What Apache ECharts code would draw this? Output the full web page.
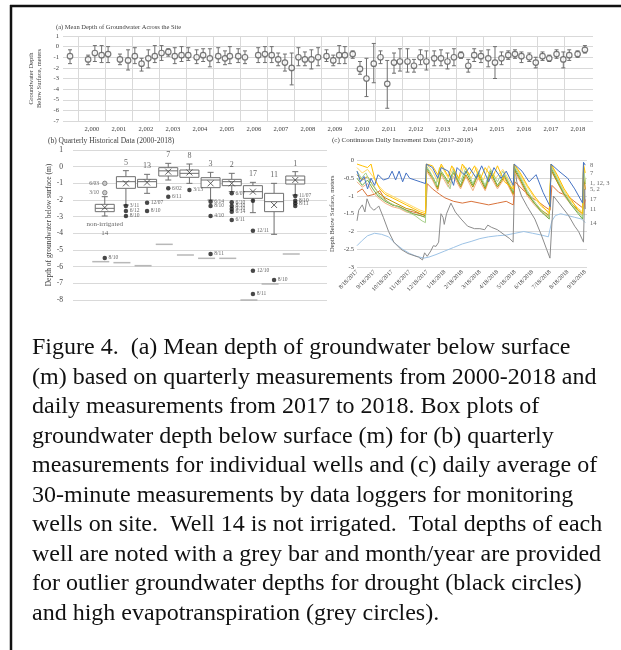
<!DOCTYPE html>
<html>
<head>
<meta charset="utf-8">
<script src="https://cdn.jsdelivr.net/npm/echarts@6/dist/echarts.min.js"></script>
<style>
html, body { margin: 0; padding: 0; background: #fff; }
#chart { width: 621px; height: 650px; }
</style>
</head>
<body>
<div id="chart"></div>
<script>
// ---- (a) mean depth across the site: [decimal year, mean, upper, lower]
var yearLabels = [2000, 2001, 2002, 2003, 2004, 2005, 2006, 2007, 2008, 2009, 2010, 2011, 2012, 2013, 2014, 2015, 2016, 2017, 2018];
var yearEdges = [1999.5, 2000.5, 2001.5, 2002.5, 2003.5, 2004.5, 2005.5, 2006.5, 2007.5, 2008.5, 2009.5, 2010.5, 2011.5, 2012.5, 2013.5, 2014.5, 2015.5, 2016.5, 2017.5];
var meanDepth = [
    [1999.19, -0.9, -0.3, -1.6], [1999.86, -1.2, -0.8, -1.7], [2000.11, -0.6, 0.1, -1.4], [2000.36, -0.8, 0.1, -1.5],
    [2000.60, -0.7, 0.0, -1.5], [2001.04, -1.2, -0.7, -1.7], [2001.34, -1.3, -0.3, -2.2], [2001.59, -0.9, -0.1, -1.6],
    [2001.84, -1.6, -1.1, -2.3], [2002.09, -1.1, -0.3, -2.0], [2002.33, -0.9, 0.1, -1.5], [2002.58, -0.6, 0.1, -1.3],
    [2002.83, -0.5, -0.2, -0.9], [2003.07, -0.9, -0.1, -1.6], [2003.32, -0.8, 0.0, -1.4], [2003.57, -0.8, -0.1, -1.3],
    [2003.88, -1.0, -0.3, -1.6], [2004.12, -0.8, -0.2, -1.4], [2004.37, -1.1, -0.2, -1.9], [2004.68, -0.9, -0.1, -1.5],
    [2004.93, -1.1, -0.4, -1.7], [2005.11, -0.9, 0.0, -1.6], [2005.42, -0.9, -0.2, -1.5], [2005.67, -1.0, -0.4, -1.6],
    [2006.16, -0.8, -0.1, -1.5], [2006.41, -0.7, 0.0, -1.5], [2006.66, -0.8, 0.0, -1.5], [2006.90, -1.2, -0.6, -1.8],
    [2007.15, -1.5, -0.7, -2.3], [2007.40, -2.0, -0.6, -3.6], [2007.65, -1.0, -0.1, -1.8], [2007.89, -1.2, -0.5, -1.8],
    [2008.13, -1.2, -0.3, -2.1], [2008.38, -1.0, -0.1, -1.8], [2008.69, -0.9, -0.3, -1.4], [2008.94, -1.3, -0.8, -1.8],
    [2009.16, -0.8, 0.1, -1.6], [2009.37, -0.8, 0.0, -1.6], [2009.66, -0.7, -0.4, -1.1], [2009.93, -2.1, -1.4, -2.6],
    [2010.17, -3.0, -1.1, -4.7], [2010.44, -1.6, 0.3, -3.4], [2010.69, -1.0, -0.4, -1.6], [2010.94, -3.5, -1.3, -5.8],
    [2011.19, -1.5, -0.6, -2.5], [2011.41, -1.4, -0.2, -2.3], [2011.69, -1.4, -0.2, -2.4], [2011.93, -1.8, -1.2, -2.4],
    [2012.17, -1.0, -0.3, -1.7], [2012.39, -1.4, -0.4, -2.2], [2012.68, -1.1, -0.4, -1.8], [2012.93, -1.1, -0.3, -1.8],
    [2013.17, -1.4, -0.6, -2.1], [2013.41, -1.0, -0.2, -1.8], [2013.67, -0.8, -0.5, -1.1], [2013.94, -1.8, -1.2, -2.4],
    [2014.16, -0.8, -0.2, -1.4], [2014.41, -0.9, -0.4, -1.5], [2014.68, -1.1, -0.3, -1.9], [2014.93, -1.5, 0.0, -3.0],
    [2015.17, -1.1, -0.5, -1.7], [2015.42, -0.8, -0.4, -1.2], [2015.67, -0.7, -0.3, -1.1], [2015.91, -0.9, -0.5, -1.5],
    [2016.20, -1.0, -0.6, -1.4], [2016.44, -1.5, -1.0, -2.0], [2016.69, -0.9, -0.5, -1.3], [2016.94, -1.1, -0.8, -1.4],
    [2017.21, -0.7, -0.3, -1.1], [2017.46, -1.2, -0.5, -2.0], [2017.68, -0.8, -0.3, -1.3], [2017.99, -0.7, -0.4, -1.0],
    [2018.26, -0.3, 0.1, -0.6]
];

// ---- (b) quarterly historical data by well
var wellNames = ['14', '5', '13', '7', '8', '3', '2', '17', '11', '1'];
// min, Q1, median, Q3, max
var boxStats = [
    [-2.96, -2.7, -2.5, -2.26, -1.8],
    [-2.3, -1.3, -0.9, -0.6, -0.24],
    [-1.6, -1.24, -0.9, -0.76, -0.46],
    [-0.8, -0.56, -0.25, -0.06, 0.2],
    [-1.0, -0.64, -0.4, -0.2, 0.16],
    [-2.0, -1.26, -0.8, -0.66, -0.34],
    [-1.5, -1.14, -0.9, -0.76, -0.4],
    [-2.76, -1.9, -1.5, -1.14, -0.94],
    [-4.06, -2.7, -2.1, -1.6, -1.0],
    [-1.7, -1.04, -0.8, -0.56, -0.3]
];
var wellMeans = [-2.45, -1.0, -0.95, -0.3, -0.35, -1.0, -1.0, -1.5, -2.3, -0.8];
var totalDepths = [-5.7, -5.76, -5.94, -4.66, -5.3, -5.5, -5.5, -8.0, -7.04, -5.24];
// [well position, depth, month/year, cause]
var outliers = [
    [1, -1.0, '6/03', 'et'], [1, -1.56, '3/10', 'et'], [1, -5.48, '8/10', 'drought'],
    [2, -2.36, '3/11', 'drought'], [2, -2.66, '6/12', 'drought'], [2, -2.96, '8/10', 'drought'],
    [3, -2.16, '12/07', 'drought'], [3, -2.66, '8/10', 'drought'],
    [4, -1.3, '6/02', 'drought'], [4, -1.8, '6/11', 'drought'],
    [5, -1.4, '3/13', 'drought'],
    [6, -2.1, '6/14', 'drought'], [6, -2.36, '8/10', 'drought'], [6, -2.96, '4/10', 'drought'], [6, -5.24, '8/11', 'drought'],
    [7, -1.6, '6/07', 'drought'], [7, -2.14, '6/10', 'drought'], [7, -2.36, '8/10', 'drought'], [7, -2.54, '9/10', 'drought'],
    [7, -2.7, '6/14', 'drought'], [7, -3.2, '6/11', 'drought'],
    [8, -2.04, '', 'drought'], [8, -3.84, '12/11', 'drought'], [8, -6.24, '12/10', 'drought'], [8, -7.64, '8/11', 'drought'],
    [9, -6.8, '8/10', 'drought'],
    [10, -1.76, '11/07', 'drought'], [10, -2.04, '8/10', 'drought'], [10, -2.2, '8/11', 'drought'], [10, -2.36, '', 'drought']
];

// ---- (c) continuous daily data: [months since 8/18/2017, depth]
var monthLabels = ['8/18/2017', '9/18/2017', '10/18/2017', '11/18/2017', '12/18/2017', '1/18/2018', '2/18/2018',
    '3/18/2018', '4/18/2018', '5/18/2018', '6/18/2018', '7/18/2018', '8/18/2018', '9/18/2018'];
var c8 = [[0, -0.3], [0.2, -0.6], [0.4, -0.45], [0.6, -0.8], [0.8, -0.5], [1.0, -0.7], [1.2, -0.4], [1.5, -0.55], [1.8, -0.5],
    [2.0, -0.3], [2.2, -0.55], [2.4, -0.3], [2.6, -0.6], [2.8, -0.35], [3.0, -0.5], [3.3, -0.55], [3.6, -0.6], [3.9, -0.65],
    [3.95, -0.1], [4.3, -0.2], [4.6, -0.5], [4.8, -0.2], [5.2, -0.3], [5.5, -0.7], [5.7, -0.2], [6.1, -0.4], [6.4, -0.2],
    [6.8, -0.5], [7.1, -0.15], [7.5, -0.6], [7.8, -0.2], [8.2, -0.5], [8.5, -0.3], [8.9, -0.7], [8.95, -0.1], [9.4, -0.3],
    [9.8, -0.6], [10.2, -0.4], [10.6, -0.9], [11.0, -1.3], [11.05, -0.1], [11.5, -0.3], [12.0, -0.5], [12.4, -0.8],
    [12.85, -1.2], [12.9, -0.05], [13.0, -0.13]];
var c7 = [[0, -0.1], [0.3, -0.15], [0.6, -0.2], [0.8, -0.1], [1.0, -0.5], [1.3, -0.8], [1.6, -0.95], [2.0, -1.05], [2.4, -1.15],
    [2.8, -1.25], [3.2, -1.35], [3.6, -1.45], [3.9, -1.5], [3.95, -0.1], [4.3, -0.15], [4.6, -0.4], [4.8, -0.1], [5.2, -0.45],
    [5.4, -0.15], [5.8, -0.5], [6.0, -0.1], [6.4, -0.4], [6.7, -0.15], [7.0, -0.55], [7.3, -0.2], [7.7, -0.5], [8.0, -0.15],
    [8.4, -0.6], [8.9, -0.8], [8.95, -0.1], [9.3, -0.35], [9.7, -0.7], [10.1, -1.0], [10.5, -1.25], [10.95, -1.5], [11.05, -0.1],
    [11.4, -0.4], [11.8, -0.8], [12.2, -1.1], [12.6, -1.4], [12.85, -1.5], [12.9, -0.1], [13.0, -0.35]];
var c1 = [[0, -0.3], [0.25, -0.5], [0.5, -0.35], [0.75, -0.6], [1.0, -0.75], [1.3, -1.0], [1.7, -1.15], [2.1, -1.25], [2.5, -1.35],
    [2.9, -1.45], [3.3, -1.55], [3.7, -1.7], [3.9, -1.75], [3.95, -0.15], [4.2, -0.35], [4.5, -0.7], [4.7, -0.2], [5.0, -0.5],
    [5.3, -0.8], [5.5, -0.25], [5.9, -0.6], [6.2, -0.2], [6.6, -0.65], [6.9, -0.3], [7.3, -0.7], [7.6, -0.25], [8.0, -0.6],
    [8.3, -0.3], [8.9, -0.85], [8.95, -0.15], [9.3, -0.45], [9.7, -0.85], [10.1, -1.15], [10.5, -1.4], [10.95, -1.6],
    [11.05, -0.15], [11.4, -0.5], [11.8, -0.9], [12.2, -1.2], [12.6, -1.45], [12.85, -1.6], [12.9, -0.2], [13.0, -0.6]];
var c12 = [[0, -0.2], [0.3, -0.35], [0.6, -0.25], [0.9, -0.45], [1.2, -0.7], [1.6, -0.9], [2.0, -1.0], [2.4, -1.1], [2.8, -1.2],
    [3.2, -1.3], [3.6, -1.4], [3.9, -1.45], [3.95, -0.1], [4.3, -0.3], [4.6, -0.6], [4.8, -0.15], [5.2, -0.5], [5.5, -0.2],
    [5.8, -0.55], [6.1, -0.15], [6.5, -0.5], [6.8, -0.2], [7.2, -0.55], [7.5, -0.15], [7.9, -0.5], [8.3, -0.25], [8.9, -0.75],
    [8.95, -0.1], [9.3, -0.4], [9.7, -0.75], [10.1, -1.05], [10.5, -1.3], [10.95, -1.45], [11.05, -0.1], [11.4, -0.45],
    [11.8, -0.85], [12.2, -1.15], [12.6, -1.35], [12.85, -1.45], [12.9, -0.15], [13.0, -0.62]];
var c3 = [[0, -0.5], [0.3, -0.7], [0.6, -0.55], [0.9, -0.8], [1.2, -1.0], [1.6, -1.15], [2.0, -1.25], [2.4, -1.3], [2.8, -1.4],
    [3.2, -1.5], [3.6, -1.55], [3.9, -1.6], [3.95, -0.2], [4.3, -0.45], [4.6, -0.75], [4.8, -0.3], [5.2, -0.6], [5.5, -0.3],
    [5.9, -0.7], [6.2, -0.3], [6.6, -0.7], [6.9, -0.35], [7.3, -0.75], [7.6, -0.3], [8.0, -0.7], [8.4, -0.4], [8.9, -0.9],
    [8.95, -0.2], [9.3, -0.5], [9.7, -0.9], [10.1, -1.2], [10.5, -1.45], [10.95, -1.65], [11.05, -0.2], [11.4, -0.55],
    [11.8, -0.95], [12.2, -1.25], [12.6, -1.5], [12.85, -1.65], [12.9, -0.25], [13.0, -0.66]];
var c5 = [[0, -0.6], [0.3, -0.75], [0.6, -0.65], [0.9, -0.9], [1.2, -1.05], [1.6, -1.2], [2.0, -1.3], [2.4, -1.35], [2.8, -1.45],
    [3.2, -1.5], [3.6, -1.55], [3.9, -1.6], [3.95, -0.3], [4.3, -0.55], [4.6, -0.85], [4.8, -0.4], [5.2, -0.75], [5.5, -0.45],
    [5.9, -0.8], [6.2, -0.45], [6.6, -0.85], [6.9, -0.5], [7.3, -0.85], [7.6, -0.45], [8.0, -0.8], [8.4, -0.5], [8.9, -1.0],
    [8.95, -0.3], [9.3, -0.6], [9.7, -1.0], [10.1, -1.25], [10.5, -1.45], [10.95, -1.6], [11.05, -0.3], [11.4, -0.6],
    [11.8, -1.0], [12.2, -1.25], [12.6, -1.45], [12.85, -1.55], [12.9, -0.35], [13.0, -0.8]];
var c2 = [[0, -0.4], [0.3, -0.55], [0.6, -0.45], [0.9, -0.7], [1.2, -0.9], [1.6, -1.05], [2.0, -1.15], [2.4, -1.25], [2.8, -1.35],
    [3.2, -1.4], [3.6, -1.5], [3.9, -1.55], [3.95, -0.25], [4.3, -0.5], [4.6, -0.8], [4.8, -0.35], [5.2, -0.65], [5.5, -0.35],
    [5.9, -0.75], [6.2, -0.4], [6.6, -0.75], [6.9, -0.4], [7.3, -0.8], [7.6, -0.35], [8.0, -0.75], [8.4, -0.45], [8.9, -0.95],
    [8.95, -0.25], [9.3, -0.55], [9.7, -0.95], [10.1, -1.2], [10.5, -1.4], [10.95, -1.55], [11.05, -0.25], [11.4, -0.6],
    [11.8, -0.95], [12.2, -1.2], [12.6, -1.4], [12.85, -1.5], [12.9, -0.3], [13.0, -0.82]];
var c17 = [[0, -0.9], [0.3, -0.8], [0.6, -1.0], [1.0, -0.95], [1.3, -0.85], [1.6, -1.1], [2.0, -1.25], [2.4, -1.3], [2.8, -1.4],
    [3.2, -1.45], [3.6, -1.5], [3.9, -1.55], [4.0, -0.65], [4.3, -0.8], [4.7, -0.95], [5.0, -1.05], [5.5, -1.15], [6.0, -1.2],
    [6.5, -1.15], [7.0, -1.2], [7.5, -1.25], [8.0, -1.2], [8.5, -1.15], [8.9, -1.25], [9.0, -0.6], [9.4, -0.8], [9.8, -1.0],
    [10.3, -1.15], [10.7, -1.3], [11.0, -1.4], [11.1, -0.7], [11.5, -0.9], [12.0, -1.0], [12.5, -1.2], [12.9, -1.35], [13.0, -1.1]];
var c11 = [[0, -1.7], [0.1, -1.4], [0.3, -1.25], [0.45, -1.45], [0.57, -1.08], [0.75, -1.3], [0.95, -1.4], [1.1, -1.35],
    [1.24, -1.28], [1.5, -1.6], [1.8, -2.0], [2.1, -2.3], [2.5, -2.5], [2.9, -2.62], [3.25, -2.68], [3.5, -2.72], [3.73, -2.8],
    [3.85, -2.6], [4.0, -2.7], [4.2, -2.55], [4.35, -2.4], [4.5, -2.42], [4.65, -2.3], [4.78, -1.5], [4.9, -1.6], [4.97, -1.8],
    [5.1, -1.5], [5.35, -1.2], [5.6, -1.45], [5.93, -1.65], [6.3, -1.85], [6.69, -1.92], [7.0, -1.92], [7.27, -1.95],
    [7.45, -1.82], [7.65, -1.88], [8.0, -1.95], [8.41, -2.1], [8.7, -2.2], [8.89, -2.3], [8.99, -0.2], [9.1, -0.6], [9.37, -1.0],
    [9.7, -1.3], [10.13, -1.65], [10.5, -2.1], [10.8, -2.5], [10.99, -2.75], [11.19, -1.0], [11.5, -1.2], [12.05, -1.55],
    [12.4, -1.85], [12.62, -2.0], [12.9, -2.3], [12.97, -0.8], [13.0, -1.37]];
var c14 = [[0, -2.4], [0.3, -2.25], [0.6, -2.12], [1.0, -2.05], [1.4, -2.08], [1.8, -2.15], [2.2, -2.35], [2.6, -2.5], [3.0, -2.62],
    [3.4, -2.7], [3.8, -2.75], [4.1, -2.72], [4.5, -2.65], [5.0, -2.55], [5.5, -2.45], [6.0, -2.35], [6.5, -2.28], [7.0, -2.2],
    [7.5, -2.15], [8.0, -2.12], [8.5, -2.1], [9.0, -2.05], [9.5, -2.0], [10.0, -2.05], [10.5, -2.1], [10.9, -2.15], [11.1, -1.7],
    [11.3, -1.55], [11.6, -1.5], [12.0, -1.55], [12.4, -1.6], [12.8, -1.65], [13.0, -1.75]];
var endLabels = [['8', -0.13], ['7', -0.35], ['1, 12, 3', -0.63], ['5, 2', -0.8], ['17', -1.1], ['11', -1.37], ['14', -1.77]];

var captionLines = [
    'Figure 4.  (a) Mean depth of groundwater below surface',
    '(m) based on quarterly measurements from 2000-2018 and',
    'daily measurements from 2017 to 2018. Box plots of',
    'groundwater depth below surface (m) for (b) quarterly',
    'measurements for individual wells and (c) daily average of',
    '30-minute measurements by data loggers for monitoring',
    'wells on site.  Well 14 is not irrigated.  Total depths of each',
    'well are noted with a grey bar and month/year are provided',
    'for outlier groundwater depths for drought (black circles)',
    'and high evapotranspiration (grey circles).'
];

var SERIF = 'Liberation Serif';
var TXT = '#404040';
var GRID = '#d9d9d9';
var MARK = '#6f6f6f';

var lineSeries = [
    { name: '14', data: c14, color: '#9dc3e6' },
    { name: '11', data: c11, color: '#8c8c8c' },
    { name: '17', data: c17, color: '#d9733b' },
    { name: '5', data: c5, color: '#f4b183' },
    { name: '2', data: c2, color: '#bf9000' },
    { name: '3', data: c3, color: '#70ad47' },
    { name: '12', data: c12, color: '#ffd966' },
    { name: '1', data: c1, color: '#a9d18e' },
    { name: '7', data: c7, color: '#ffc000' },
    { name: '8', data: c8, color: '#4472c4' }
];

/**
 * Error bar with short caps.
 */
function renderErrorBar(params, api) {
    var x = api.value(0);
    var hi = api.coord([x, api.value(2)]);
    var lo = api.coord([x, api.value(3)]);
    var cap = 2;
    var st = { stroke: MARK, lineWidth: 1 };
    return {
        type: 'group',
        children: [
            { type: 'line', shape: { x1: hi[0], y1: hi[1], x2: lo[0], y2: lo[1] }, style: st },
            { type: 'line', shape: { x1: hi[0] - cap, y1: hi[1], x2: hi[0] + cap, y2: hi[1] }, style: st },
            { type: 'line', shape: { x1: lo[0] - cap, y1: lo[1], x2: lo[0] + cap, y2: lo[1] }, style: st }
        ]
    };
}

/**
 * Box and whisker, Excel style.
 */
function renderBox(params, api) {
    var x = api.value(0);
    var pMin = api.coord([x, api.value(1)]);
    var pQ1 = api.coord([x, api.value(2)]);
    var pMed = api.coord([x, api.value(3)]);
    var pQ3 = api.coord([x, api.value(4)]);
    var pMax = api.coord([x, api.value(5)]);
    var hw = 9.5, cap = 3;
    var st = { stroke: MARK, lineWidth: 1 };
    return {
        type: 'group',
        children: [
            { type: 'line', shape: { x1: pMin[0], y1: pMin[1], x2: pQ1[0], y2: pQ1[1] }, style: st },
            { type: 'line', shape: { x1: pQ3[0], y1: pQ3[1], x2: pMax[0], y2: pMax[1] }, style: st },
            { type: 'line', shape: { x1: pMin[0] - cap, y1: pMin[1], x2: pMin[0] + cap, y2: pMin[1] }, style: st },
            { type: 'line', shape: { x1: pMax[0] - cap, y1: pMax[1], x2: pMax[0] + cap, y2: pMax[1] }, style: st },
            { type: 'rect', shape: { x: pQ3[0] - hw, y: pQ3[1], width: hw * 2, height: pQ1[1] - pQ3[1] }, style: { fill: '#fff', stroke: MARK, lineWidth: 1 } },
            { type: 'line', shape: { x1: pMed[0] - hw, y1: pMed[1], x2: pMed[0] + hw, y2: pMed[1] }, style: st }
        ]
    };
}

var boxData = boxStats.map(function (s, i) { return [i + 1].concat(s); });
var meanData = wellMeans.map(function (v, i) { return [i + 1, v]; });
var depthData = totalDepths.map(function (v, i) { return [i + 1, v]; });
var nameData = boxStats.map(function (s, i) { return [i + 1, s[4], wellNames[i]]; });
var droughtData = outliers.filter(function (o) { return o[3] === 'drought'; });
var etData = outliers.filter(function (o) { return o[3] === 'et'; });

var series = [
    {
        type: 'custom', xAxisIndex: 0, yAxisIndex: 0, renderItem: renderErrorBar,
        encode: { x: 0, y: [2, 3] }, data: meanDepth, silent: true, z: 2
    },
    {
        type: 'scatter', xAxisIndex: 0, yAxisIndex: 0, symbol: 'circle', symbolSize: 5.5,
        itemStyle: { color: '#fff', borderColor: '#595959', borderWidth: 1.2 },
        data: meanDepth.map(function (d) { return [d[0], d[1]]; }), z: 3
    },
    {
        type: 'custom', xAxisIndex: 1, yAxisIndex: 1, renderItem: renderBox,
        encode: { x: 0, y: [1, 5] }, data: boxData, z: 2
    },
    {
        type: 'scatter', xAxisIndex: 1, yAxisIndex: 1, symbol: 'path://M0,0L10,10M10,0L0,10', symbolSize: 6,
        itemStyle: { color: 'none', borderColor: '#404040', borderWidth: 1 }, data: meanData, z: 4
    },
    {
        type: 'scatter', xAxisIndex: 1, yAxisIndex: 1, symbol: 'rect', symbolSize: [17, 1.5], symbolOffset: [-4, 0],
        itemStyle: { color: '#a6a6a6' }, data: depthData, z: 3
    },
    {
        type: 'scatter', xAxisIndex: 1, yAxisIndex: 1, symbolSize: 4.5, itemStyle: { color: '#1a1a1a' },
        data: droughtData, z: 5,
        label: { show: true, position: 'right', distance: 1.5, fontSize: 5.5, color: TXT, fontFamily: SERIF, formatter: function (p) { return p.data[2]; } }
    },
    {
        type: 'scatter', xAxisIndex: 1, yAxisIndex: 1, symbolSize: 4.5,
        itemStyle: { color: '#bfbfbf', borderColor: '#595959', borderWidth: 0.8 }, data: etData, z: 5,
        label: { show: true, position: 'left', distance: 3, fontSize: 5.5, color: TXT, fontFamily: SERIF, formatter: function (p) { return p.data[2]; } }
    },
    {
        type: 'scatter', xAxisIndex: 1, yAxisIndex: 1, symbolSize: 0, data: nameData, z: 5, silent: true,
        label: {
            show: true, position: 'top', distance: 4, fontSize: 8, color: TXT, fontFamily: SERIF,
            formatter: function (p) { return p.data[2] === '14' ? '' : p.data[2]; }
        }
    },
    {
        type: 'scatter', xAxisIndex: 1, yAxisIndex: 1, symbolSize: 0, data: [[1, boxStats[0][0], 'non-irrigated\n14']], z: 5, silent: true,
        label: { show: true, position: 'bottom', distance: 4, fontSize: 7, lineHeight: 9, color: TXT, fontFamily: SERIF, formatter: function (p) { return p.data[2]; } }
    }
];

lineSeries.forEach(function (s) {
    series.push({
        type: 'line', name: s.name, xAxisIndex: 2, yAxisIndex: 2, data: s.data, showSymbol: false, symbol: 'none',
        lineStyle: { width: 1, color: s.color }, itemStyle: { color: s.color }, z: 2
    });
});
series.push({
    type: 'scatter', xAxisIndex: 2, yAxisIndex: 2, symbolSize: 0, clip: false, silent: true, z: 5,
    data: endLabels.map(function (l) { return [13.1, l[1], l[0]]; }),
    label: { show: true, position: 'right', distance: 3, fontSize: 6.5, color: TXT, fontFamily: SERIF, formatter: function (p) { return p.data[2]; } }
});

var graphics = [
    { type: 'line', shape: { x1: 10, y1: 6, x2: 621, y2: 6 }, style: { stroke: '#111', lineWidth: 2.5 } },
    { type: 'line', shape: { x1: 11, y1: 5, x2: 11, y2: 650 }, style: { stroke: '#111', lineWidth: 2.5 } }
];
captionLines.forEach(function (t, i) {
    graphics.push({
        type: 'text', x: 32, y: 348 + i * 29.5,
        style: { text: t, font: '24px "Liberation Serif"', fill: '#111', verticalAlign: 'middle' }
    });
});

function axisName(size) {
    return { fontSize: size, color: TXT, fontFamily: SERIF, lineHeight: size + 1 };
}

var option = {
    animation: false,
    backgroundColor: '#fff',
    textStyle: { fontFamily: SERIF },
    title: [
        { text: '(a) Mean Depth of Groundwater Across the Site', left: 56, top: 24, padding: 0, textStyle: { fontSize: 6.5, fontWeight: 'normal', color: TXT, fontFamily: SERIF } },
        { text: '(b) Quarterly Historical Data (2000-2018)', left: 48, top: 137, padding: 0, textStyle: { fontSize: 7.5, fontWeight: 'normal', color: TXT, fontFamily: SERIF } },
        { text: '(c) Continuous Daily Increment Data (2017-2018)', left: 332, top: 137, padding: 0, textStyle: { fontSize: 7, fontWeight: 'normal', color: TXT, fontFamily: SERIF } }
    ],
    grid: [
        { left: 63, top: 36, width: 530, height: 85 },
        { left: 73, top: 150, width: 254, height: 150 },
        { left: 357, top: 160.5, width: 230, height: 106.5 }
    ],
    xAxis: [
        {
            gridIndex: 0, type: 'value', min: 1998.93, max: 2018.56,
            axisLine: { show: false },
            axisTick: { show: false, customValues: yearEdges },
            splitLine: { show: true, lineStyle: { color: GRID, width: 1 } },
            axisLabel: { customValues: yearLabels, fontSize: 6.5, color: TXT, margin: 5, fontFamily: SERIF }
        },
        {
            gridIndex: 1, type: 'value', min: -0.5, max: 11.5,
            axisLine: { show: false }, axisTick: { show: false }, splitLine: { show: false }, axisLabel: { show: false }
        },
        {
            gridIndex: 2, type: 'value', min: 0, max: 13.1, interval: 1,
            axisLine: { show: false }, axisTick: { show: false }, splitLine: { show: false },
            axisLabel: {
                rotate: 45, fontSize: 6, color: TXT, margin: 4, fontFamily: SERIF, showMaxLabel: false,
                formatter: function (v) { return monthLabels[Math.round(v)] && Math.abs(v - Math.round(v)) < 1e-6 ? monthLabels[Math.round(v)] : ''; }
            }
        }
    ],
    yAxis: [
        {
            gridIndex: 0, type: 'value', min: -7, max: 1, interval: 1,
            axisLine: { show: false }, axisTick: { show: false },
            splitLine: { lineStyle: { color: GRID, width: 1 } },
            axisLabel: { fontSize: 6.5, color: TXT, margin: 4, fontFamily: SERIF },
            name: 'Groundwater Depth\nBelow Surface, meters', nameLocation: 'middle', nameRotate: 90, nameGap: 17,
            nameTextStyle: axisName(6.5)
        },
        {
            gridIndex: 1, type: 'value', min: -8, max: 1, interval: 1,
            axisLine: { show: false }, axisTick: { show: false },
            splitLine: { lineStyle: { color: GRID, width: 1 } },
            axisLabel: { fontSize: 7.5, color: TXT, margin: 10, fontFamily: SERIF },
            name: 'Depth of groundwater below surface (m)', nameLocation: 'middle', nameRotate: 90, nameGap: 19,
            nameTextStyle: axisName(7.5)
        },
        {
            gridIndex: 2, type: 'value', min: -3, max: 0, interval: 0.5,
            axisLine: { show: false }, axisTick: { show: false },
            splitLine: { lineStyle: { color: GRID, width: 1 } },
            axisLabel: { fontSize: 6.5, color: TXT, margin: 3, fontFamily: SERIF },
            name: 'Depth Below Surface, meters', nameLocation: 'middle', nameRotate: 90, nameGap: 21,
            nameTextStyle: axisName(6.5)
        }
    ],
    series: series,
    graphic: graphics
};

var chart = echarts.init(document.getElementById('chart'));
chart.setOption(option);
</script>
</body>
</html>
